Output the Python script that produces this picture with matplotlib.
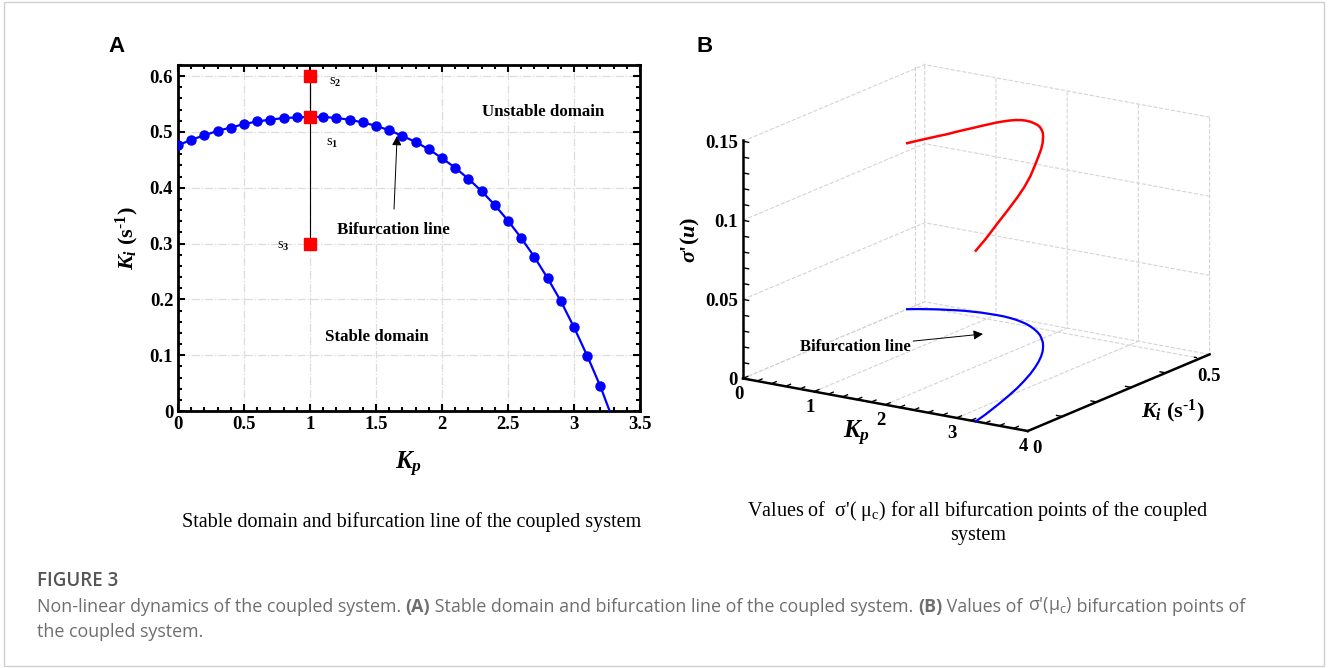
import numpy as np
import matplotlib
matplotlib.use("Agg")
import matplotlib.pyplot as plt
from matplotlib.patches import Rectangle
from matplotlib.ticker import MultipleLocator
from mpl_toolkits.mplot3d import proj3d

# bifurcation line: Kp and Ki (s^-1)
kp = [0.0, 0.1, 0.2, 0.3, 0.4, 0.5, 0.6, 0.7, 0.8, 0.9, 1.0, 1.1, 1.2, 1.3, 1.4, 1.5, 1.6,
      1.7, 1.8, 1.9, 2.0, 2.1, 2.2, 2.3, 2.4, 2.5, 2.6, 2.7, 2.8, 2.9, 3.0, 3.1, 3.2]
ki = [0.476, 0.486, 0.494, 0.502, 0.508, 0.514, 0.519, 0.522, 0.525, 0.526, 0.527, 0.527,
      0.525, 0.522, 0.517, 0.511, 0.503, 0.493, 0.482, 0.469, 0.453, 0.436, 0.416, 0.394,
      0.369, 0.341, 0.310, 0.276, 0.238, 0.197, 0.150, 0.099, 0.044]
# the line runs on to Ki = 0 here
kp_end = 3.27
ki_end = 0.0

# sigma'(mu_c) along the same line (panel B, red)
sigma = [0.105, 0.1065, 0.108, 0.1095, 0.111, 0.1128, 0.1145, 0.1162, 0.118, 0.1198, 0.1216,
         0.1232, 0.1248, 0.1262, 0.1275, 0.1285, 0.1294, 0.1302, 0.131, 0.1316, 0.1322,
         0.1326, 0.133, 0.1318, 0.131, 0.130, 0.128, 0.125, 0.1225, 0.1205, 0.118, 0.115, 0.111]
sigma_end = 0.108

# test points s1, s2, s3 at Kp = 1
s_kp = [1.0, 1.0, 1.0]
s_ki = [0.527, 0.6, 0.3]
s_names = ['s$_1$', 's$_2$', 's$_3$']

# panel B tick values
z_ticks = [0, 0.05, 0.1, 0.15]
z_ticklabels = ['0', '0.05', '0.1', '0.15']

plt.rcParams['font.family'] = ['Liberation Serif', 'DejaVu Serif']
plt.rcParams['mathtext.fontset'] = 'custom'
plt.rcParams['mathtext.rm'] = 'Liberation Serif:bold'
plt.rcParams['mathtext.it'] = 'Liberation Serif:italic:bold'
plt.rcParams['mathtext.bf'] = 'Liberation Serif:bold'
plt.rcParams['grid.color'] = '#d4d4d4'
plt.rcParams['grid.linestyle'] = '--'
plt.rcParams['grid.linewidth'] = 0.8

W, H = 1328, 668
fig = plt.figure(figsize=(W / 100, H / 100), dpi=100)
fig.add_artist(Rectangle((0.003, 0.003), 0.994, 0.994, transform=fig.transFigure,
                         fill=False, edgecolor='#d0d0d0', lw=1))

ki_label = '$K_i$ (s$^{\\text{-}1}$)'

# ---------------- panel A ----------------
ax = fig.add_axes([178 / W, 1 - 411 / H, 462 / W, 346 / H])
ax.plot(kp + [kp_end], ki + [ki_end], color='blue', lw=1.6, zorder=3)
ax.plot(kp, ki, 'o', color='blue', ms=6.5, zorder=4)
ax.plot(s_kp, s_ki, color='black', lw=0.8, zorder=2)
ax.plot(s_kp, s_ki, 's', color='red', ms=9, zorder=5)
ax.text(1.19, 0.589, s_names[1], fontsize=10.5, ha='center', va='center')
ax.text(1.17, 0.479, s_names[0], fontsize=10.5, ha='center', va='center')
ax.text(0.80, 0.294, s_names[2], fontsize=10.5, ha='center', va='center')
ax.annotate('Bifurcation line', xy=(1.66, 0.493), xytext=(1.63, 0.325),
            fontsize=12.2, fontweight='bold', ha='center', va='center',
            arrowprops=dict(arrowstyle='-|>', color='black', lw=0.7,
                            shrinkA=7, shrinkB=0, mutation_scale=14))
ax.text(2.77, 0.536, 'Unstable domain', fontsize=12.2, fontweight='bold', ha='center', va='center')
ax.text(1.51, 0.132, 'Stable domain', fontsize=12.2, fontweight='bold', ha='center', va='center')

ax.set_xlim(0, 3.5)
ax.set_ylim(0, 0.62)
ax.set_xticks(np.arange(0, 3.51, 0.5))
ax.set_xticklabels(['0', '0.5', '1', '1.5', '2', '2.5', '3', '3.5'])
ax.set_yticks(np.arange(0, 0.61, 0.1))
ax.set_yticklabels(['0', '0.1', '0.2', '0.3', '0.4', '0.5', '0.6'])
ax.xaxis.set_minor_locator(MultipleLocator(0.1))
ax.yaxis.set_minor_locator(MultipleLocator(0.02))
ax.tick_params(which='both', direction='in', top=True, right=True, width=1.5)
ax.tick_params(which='major', length=5, labelsize=13.5)
ax.tick_params(which='minor', length=3)
for lab in ax.get_xticklabels() + ax.get_yticklabels():
    lab.set_fontweight('bold')
for sp in ax.spines.values():
    sp.set_linewidth(2)
ax.grid(True, linestyle='-.', color='#dcdcdc', lw=0.9)
ax.set_xlabel('$K_p$', fontsize=18, labelpad=12)
ax.set_ylabel(ki_label, fontsize=16, labelpad=6, fontweight='bold')

fig.text(108 / W, 1 - 47 / H, 'A', fontsize=16, fontweight='bold',
         family='Liberation Sans', ha='left', va='center')

# ---------------- panel B ----------------
bx = fig.add_axes([0.5155, 0.281, 0.43, 0.68], projection='3d')
bx.plot(kp + [kp_end], ki + [ki_end], [0.0] * (len(kp) + 1), color='blue', lw=1.6)
bx.plot(kp + [kp_end], ki + [ki_end], sigma + [sigma_end], color='red', lw=1.8)

# inward ticks, major and minor, drawn on the three visible axis lines
tick_kw = dict(color='black', lw=1.0)
for k in np.arange(0, 4.001, 0.2):
    bx.plot([k, k], [0, 0.014], [0, 0], **tick_kw)
for q in np.arange(0, 0.5001, 0.1):
    bx.plot([4, 3.92], [q, q], [0, 0], **tick_kw)
for z in np.arange(0, 0.1501, 0.01):
    bx.plot([0, 0.08], [0, 0], [z, z], **tick_kw)

bx.set_xlim(0, 4)
bx.set_ylim(0, 0.527)
bx.set_zlim(0, 0.151)
bx.set_box_aspect((338, 326, 246), zoom=1.145)
bx.set_proj_type('ortho')
bx.view_init(elev=16.2, azim=-56.5)
bx.set_xticks([0, 1, 2, 3, 4])
bx.set_xticklabels(['0', '1', '2', '3', '4'])
bx.set_yticks([0, 0.5])
bx.set_yticklabels(['0', '0.5'])
bx.set_zticks(z_ticks)
bx.zaxis.set_tick_params(labelbottom=False, labeltop=False)
bx.zaxis.set_ticks_position('lower')
for axis in (bx.xaxis, bx.yaxis, bx.zaxis):
    axis.set_pane_color((1, 1, 1, 0))
    axis.pane.set_edgecolor('#d4d4d4')
    axis.pane.set_linestyle('--')
    axis.line.set_color('black')
    axis.line.set_linewidth(1.8)
    axis.label.set_visible(False)
    axis.offsetText.set_visible(False)
    axis._axinfo['tick']['inward_factor'] = 0.0
    axis._axinfo['tick']['outward_factor'] = 0.0
bx.tick_params(axis='x', pad=-4)
bx.tick_params(axis='y', pad=-2.5)
for lab in bx.get_xticklabels() + bx.get_yticklabels():
    lab.set_fontweight('bold')
    lab.set_fontsize(13.5)
# z tick labels right-aligned just left of the vertical axis (Kp = 0, Ki = 0)
M = bx.get_proj()
for zv, zl in zip(z_ticks, z_ticklabels):
    px, py, _ = proj3d.proj_transform(0, 0, zv, M)
    bx.annotate(zl, xy=(px, py), xycoords='data', xytext=(-5, -2),
                textcoords='offset pixels', ha='right', va='center',
                fontsize=13.5, fontweight='bold', annotation_clip=False)

# horizontal / vertical axis titles placed as in the original
fig.text(857 / W, 1 - 433 / H, '$K_p$', fontsize=18, ha='center', va='center')
fig.text(1173 / W, 1 - 411 / H, ki_label, fontsize=16, fontweight='bold',
         ha='center', va='center')
fig.text(690 / W, 1 - 240 / H, "$\\sigma$'($u$)", fontsize=16, fontweight='bold',
         rotation=90, ha='center', va='center')
bx.annotate('Bifurcation line', xy=(983 / W, 1 - 334 / H), xycoords='figure fraction',
            xytext=(855 / W, 1 - 347 / H), textcoords='figure fraction',
            fontsize=12, fontweight='bold', ha='center', va='center',
            arrowprops=dict(arrowstyle='-|>', color='black', lw=0.7,
                            shrinkA=62, shrinkB=0, mutation_scale=14))

fig.text(697 / W, 1 - 47 / H, 'B', fontsize=16, fontweight='bold',
         family='Liberation Sans', ha='left', va='center')

# ---------------- sub captions ----------------
fig.text(412 / W, 1 - 522 / H, 'Stable domain and bifurcation line of the coupled system',
         fontsize=14.5, ha='center', va='center')
fig.text(978 / W, 1 - 522 / H,
         "Values of  $\\mathregular{\\sigma}$'( $\\mathregular{\\mu_c}$) for all bifurcation points of the coupled\nsystem",
         fontsize=14.5, ha='center', va='center', linespacing=1.2)

# ---------------- figure caption, pieces chained left to right ----------------
fig.text(37 / W, 1 - 581 / H, 'FIGURE 3', fontsize=13.5, family='Open Sans',
         fontweight='semibold', color='#555555', ha='left', va='center')
cap_style = dict(fontsize=12.9, family='Open Sans', color='#6e6e6e')
pieces = [("Non-linear dynamics of the coupled system. ", 'normal'),
          ("(A)", 'bold'),
          (" Stable domain and bifurcation line of the coupled system. ", 'normal'),
          ("(B)", 'bold'),
          (" Values of ", 'normal'),
          ("$\\mathregular{\\sigma}$'($\\mathregular{\\mu_c}$)", 'normal'),
          (" bifurcation points of", 'normal')]
prev = fig.text(37 / W, 1 - 612 / H, pieces[0][0], fontweight=pieces[0][1],
                ha='left', va='baseline', **cap_style)
for txt, wt in pieces[1:]:
    prev = bx.annotate(txt, xy=(1, 0), xycoords=prev, xytext=(0, 0),
                       textcoords='offset points', ha='left', va='bottom',
                       fontweight=wt, annotation_clip=False, **cap_style)
fig.text(37 / W, 1 - 637 / H, 'the coupled system.', ha='left', va='baseline', **cap_style)

fig.savefig('out.png', dpi=100)
